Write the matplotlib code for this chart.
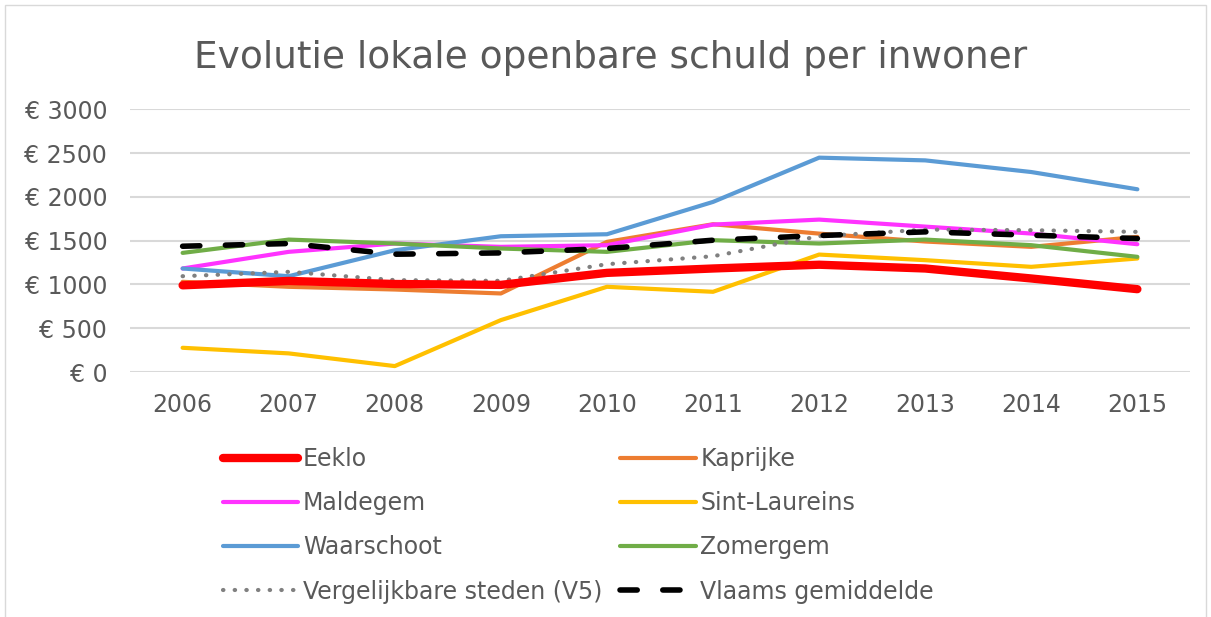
import matplotlib.pyplot as plt
from matplotlib.patches import Rectangle

# data
years = ['2006', '2007', '2008', '2009', '2010', '2011', '2012', '2013', '2014', '2015']
eeklo = [990, 1040, 1005, 995, 1132, 1182, 1225, 1182, 1068, 946]
kaprijke = [1030, 973, 942, 897, 1486, 1687, 1580, 1490, 1429, 1543]
maldegem = [1182, 1372, 1467, 1429, 1448, 1683, 1740, 1660, 1581, 1459]
sint_laureins = [277, 213, 68, 593, 973, 916, 1341, 1277, 1201, 1296]
waarschoot = [1182, 1094, 1390, 1550, 1573, 1942, 2447, 2416, 2283, 2086]
zomergem = [1360, 1512, 1467, 1410, 1372, 1505, 1467, 1512, 1448, 1315]
v5 = [1094, 1144, 1049, 1041, 1231, 1322, 1550, 1626, 1619, 1600]
vlaams = [1436, 1467, 1345, 1360, 1410, 1505, 1558, 1600, 1562, 1524]
yticks = [0, 500, 1000, 1500, 2000, 2500, 3000]

txt = '#595959'
fig = plt.figure(figsize=(12.11, 6.17), dpi=100)
fig.patches.append(Rectangle((0.004, -0.01), 0.992, 1.002, transform=fig.transFigure,
                             fill=False, edgecolor='#d9d9d9', linewidth=1))
ax = fig.add_axes([0.107, 0.397, 0.876, 0.426])

x = range(len(years))
l_ee, = ax.plot(x, eeklo, color='#ff0000', lw=6, solid_capstyle='round', label='Eeklo', zorder=3)
l_ka, = ax.plot(x, kaprijke, color='#ed7d31', lw=3, solid_capstyle='round', label='Kaprijke')
l_ma, = ax.plot(x, maldegem, color='#ff33ff', lw=3, solid_capstyle='round', label='Maldegem')
l_si, = ax.plot(x, sint_laureins, color='#ffc000', lw=3, solid_capstyle='round', label='Sint-Laureins')
l_wa, = ax.plot(x, waarschoot, color='#5b9bd5', lw=3, solid_capstyle='round', label='Waarschoot')
l_zo, = ax.plot(x, zomergem, color='#70ad47', lw=3, solid_capstyle='round', label='Zomergem')
l_v5, = ax.plot(x, v5, color='#808080', lw=3, linestyle=(0, (0.1, 2.7)), dash_capstyle='round',
                label='Vergelijkbare steden (V5)')
l_vl, = ax.plot(x, vlaams, color='#000000', lw=4, linestyle=(0, (3.1, 4.6)), dash_capstyle='round',
                label='Vlaams gemiddelde')

ax.set_xlim(-0.5, len(years) - 0.5)
ax.set_ylim(0, 3000)
ax.set_xticks(list(x))
ax.set_xticklabels(years)
ax.set_yticks(yticks)
ax.set_yticklabels(['€ %d' % v for v in yticks])
ax.tick_params(length=0, labelsize=17, colors=txt)
ax.tick_params(axis='x', pad=15)
ax.tick_params(axis='y', pad=16)
ax.grid(axis='y', color='#d9d9d9', linewidth=1.5)
ax.set_axisbelow(True)
for s in ax.spines.values():
    s.set_visible(False)

fig.text(0.504, 0.89, 'Evolutie lokale openbare schuld per inwoner', ha='center', va='baseline',
         fontsize=27, color=txt)

leg_kw = dict(frameon=False, fontsize=17, labelcolor=txt, handlelength=3.2,
              handletextpad=0.2, labelspacing=0.85, borderpad=0, borderaxespad=0,
              loc='upper left')
left = [l_ee, l_ma, l_wa, l_v5]
right = [l_ka, l_si, l_zo, l_vl]
fig.legend(left, [h.get_label() for h in left], bbox_to_anchor=(0.184, 0.275), **leg_kw)
fig.legend(right, [h.get_label() for h in right], bbox_to_anchor=(0.512, 0.275), **leg_kw)

fig.savefig('out.png', dpi=100)
